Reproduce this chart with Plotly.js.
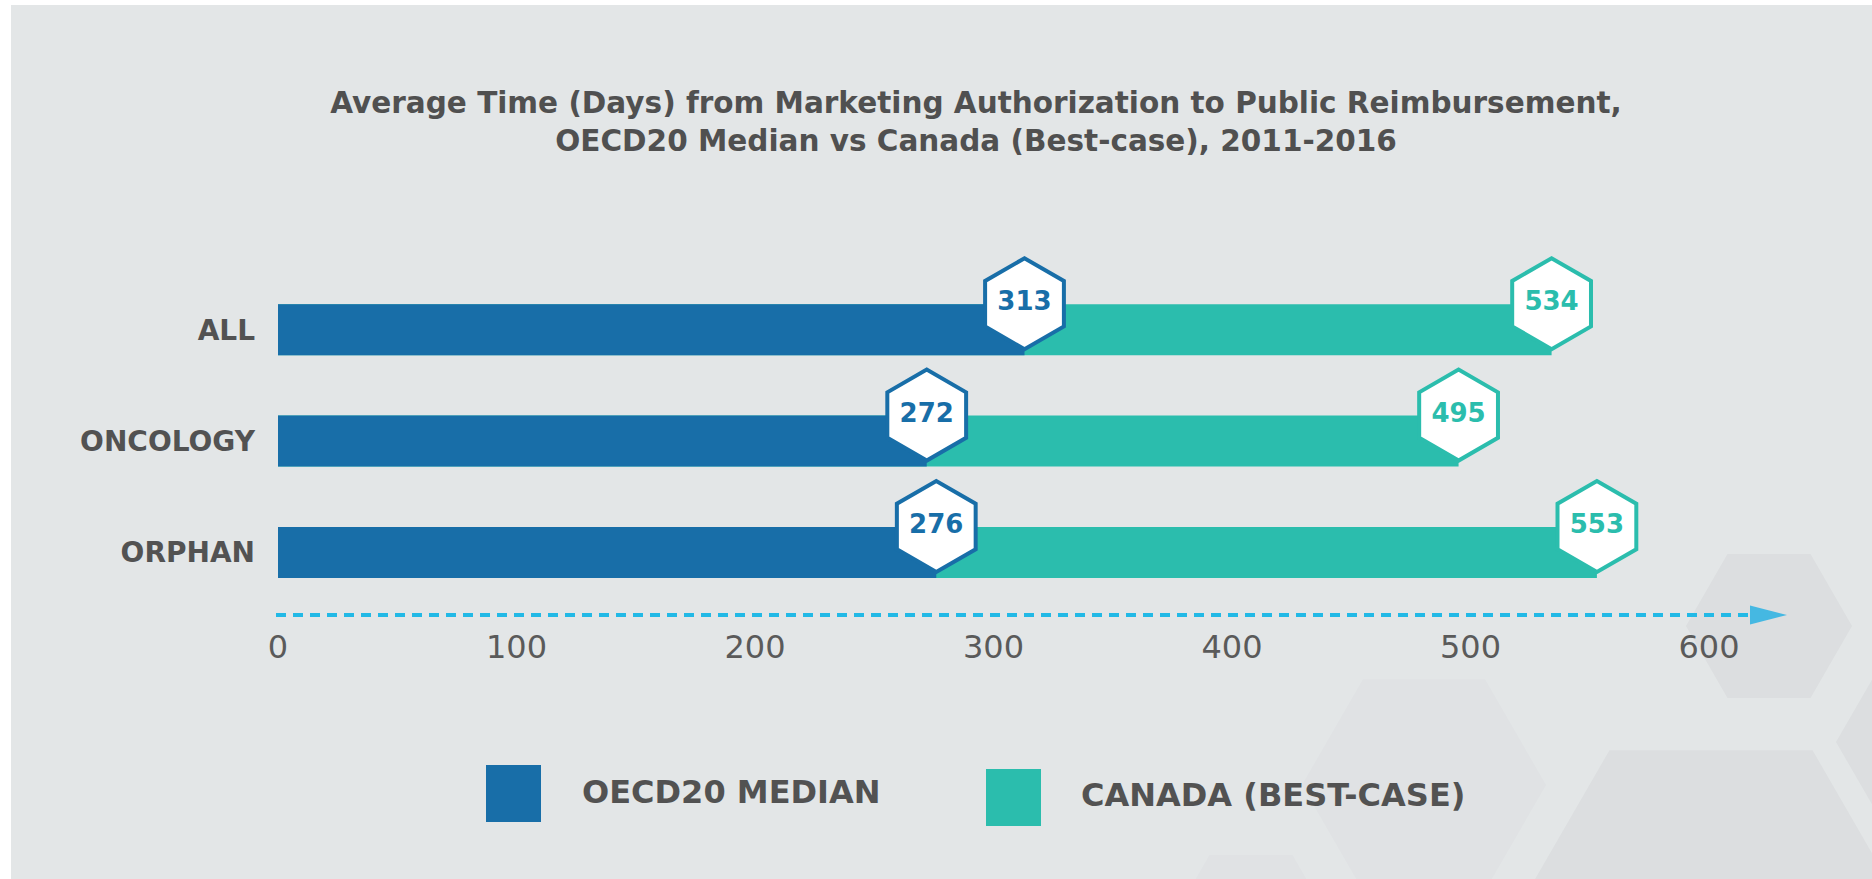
<!DOCTYPE html>
<html>
<head>
<meta charset="utf-8">
<script src="https://cdn.plot.ly/plotly-3.0.1.min.js"></script>
<style>html,body{margin:0;padding:0;background:#ffffff;}</style>
</head>
<body>
<div id="chart" style="width:1872px;height:879px;"></div>
<script>
// ---- data ----
const categories = ['ALL', 'ONCOLOGY', 'ORPHAN'];
const oecdMedian = [313, 272, 276];
const canadaBestCase = [534, 495, 553];
const seriesNames = ['OECD20 MEDIAN', 'CANADA (BEST-CASE)'];
const xTickValues = [0, 100, 200, 300, 400, 500, 600];
const xTickLabels = ['0', '100', '200', '300', '400', '500', '600'];
const chartTitle = 'Average Time (Days) from Marketing Authorization to Public Reimbursement,<br>OECD20 Median vs Canada (Best-case), 2011-2016';

// ---- styles ----
const BLUE = '#186ea8';
const TEAL = '#2bbdad';
const GREY_TXT = '#525252';
const FONT = 'DejaVu Sans';

// plot area geometry (pixels)
const L = 278, R = 85, T = 274, B = 264, W = 1872 - L - R, H = 879 - T - B;
const px = v => (v - L) / W;           // pixel x -> paper x
const py = v => (T + H - v) / H;       // pixel y -> paper y

function hexPath(r) {
  const h = r * Math.sqrt(3) / 2;
  return 'M' + r + ',0L' + (r / 2) + ',' + h + 'L' + (-r / 2) + ',' + h + 'L' + (-r) + ',0L' + (-r / 2) + ',' + (-h) + 'L' + (r / 2) + ',' + (-h) + 'Z';
}
function decoHex(cx, cy, r, color) {
  return {type: 'path', layer: 'below', xref: 'paper', yref: 'paper',
          xsizemode: 'pixel', ysizemode: 'pixel', xanchor: px(cx), yanchor: py(cy),
          path: hexPath(r), fillcolor: color, line: {width: 0}};
}

const traces = [
  {type: 'bar', orientation: 'h', name: seriesNames[1], x: canadaBestCase, y: categories,
   marker: {color: TEAL}, width: 0.458, hoverinfo: 'x+y+name'},
  {type: 'bar', orientation: 'h', name: seriesNames[0], x: oecdMedian, y: categories,
   marker: {color: BLUE}, width: 0.458, hoverinfo: 'x+y+name'},
  {type: 'scatter', mode: 'markers+text', yaxis: 'y2', name: seriesNames[0],
   x: oecdMedian, y: categories, text: oecdMedian.map(String), textposition: 'middle center',
   cliponaxis: false, hoverinfo: 'skip',
   marker: {symbol: 'hexagon', size: 91, color: '#ffffff', line: {color: BLUE, width: 4}},
   textfont: {family: FONT, size: 26, color: BLUE, weight: 'bold'}},
  {type: 'scatter', mode: 'markers+text', yaxis: 'y2', name: seriesNames[1],
   x: canadaBestCase, y: categories, text: canadaBestCase.map(String), textposition: 'middle center',
   cliponaxis: false, hoverinfo: 'skip',
   marker: {symbol: 'hexagon', size: 91, color: '#ffffff', line: {color: TEAL, width: 4}},
   textfont: {family: FONT, size: 26, color: TEAL, weight: 'bold'}}
];

const shapes = [
  // grey panel
  {type: 'rect', layer: 'below', xref: 'paper', yref: 'paper',
   x0: px(11), x1: px(1872), y0: py(879), y1: py(5), fillcolor: '#e3e6e7', line: {width: 0}},
  // decorative hexagons
  decoHex(1424, 785, 122, '#e0e2e4'),
  decoHex(1251, 927, 83, '#e0e2e4'),
  decoHex(1769, 626, 83, '#dcdee0'),
  decoHex(1711, 926, 203, '#dcdee0'),
  decoHex(1918, 742, 82, '#dcdee0'),
  // dashed axis line with arrow
  {type: 'line', xref: 'paper', yref: 'paper', x0: px(276), x1: px(1752), y0: 0, y1: 0,
   line: {color: '#22b9e6', width: 4, dash: '10px,7px'}},
  {type: 'path', xref: 'paper', yref: 'paper', xsizemode: 'pixel', ysizemode: 'pixel',
   xanchor: 1, yanchor: 0, path: 'M-37,-9.5L0,0L-37,9.5Z', fillcolor: '#45b8e2', line: {width: 0}},
  // legend swatches
  {type: 'rect', xref: 'paper', yref: 'paper', x0: px(486), x1: px(541), y0: py(822), y1: py(765),
   fillcolor: BLUE, line: {width: 0}},
  {type: 'rect', xref: 'paper', yref: 'paper', x0: px(986), x1: px(1041), y0: py(826), y1: py(769),
   fillcolor: TEAL, line: {width: 0}}
];

const annotations = [
  {xref: 'paper', yref: 'paper', x: px(580), y: py(792), xanchor: 'left', yanchor: 'middle',
   showarrow: false, text: seriesNames[0], font: {family: FONT, size: 32, color: GREY_TXT, weight: 'bold'}},
  {xref: 'paper', yref: 'paper', x: px(1079), y: py(795), xanchor: 'left', yanchor: 'middle',
   showarrow: false, text: seriesNames[1], font: {family: FONT, size: 32, color: GREY_TXT, weight: 'bold'}}
];

const pxPerDay = 2.385;
const xMax = W / pxPerDay;
const catH = 111.4;
const yTop = -0.5, yBot = yTop + H / catH;
const hexShift = 26 / catH;

const layout = {
  width: 1872, height: 879,
  margin: {l: L, r: R, t: T, b: B, pad: 0},
  paper_bgcolor: '#ffffff', plot_bgcolor: 'rgba(0,0,0,0)',
  showlegend: false, barmode: 'overlay',
  title: {text: chartTitle, x: 976 / 1872, xanchor: 'center', xref: 'container',
          y: 1 - 113 / 879, yanchor: 'middle', yref: 'container',
          font: {family: FONT, size: 29.5, color: '#505050', weight: 'bold'}},
  xaxis: {range: [0, xMax], tickvals: xTickValues, ticktext: xTickLabels,
          showgrid: false, zeroline: false, showline: false, ticks: '',
          ticklabelstandoff: 10, fixedrange: true,
          tickfont: {family: FONT, size: 32, color: '#5a5a5a'}},
  yaxis: {type: 'category', categoryarray: categories, categoryorder: 'array',
          range: [yBot, yTop], showgrid: false, zeroline: false, showline: false, ticks: '',
          ticklabelstandoff: 22, fixedrange: true,
          tickfont: {family: FONT, size: 28, color: GREY_TXT, weight: 'bold'}},
  yaxis2: {type: 'category', categoryarray: categories, categoryorder: 'array', overlaying: 'y',
           range: [yBot + hexShift, yTop + hexShift], visible: false, fixedrange: true},
  shapes: shapes,
  annotations: annotations
};

Plotly.newPlot('chart', traces, layout, {displayModeBar: false, responsive: false});
</script>
</body>
</html>
